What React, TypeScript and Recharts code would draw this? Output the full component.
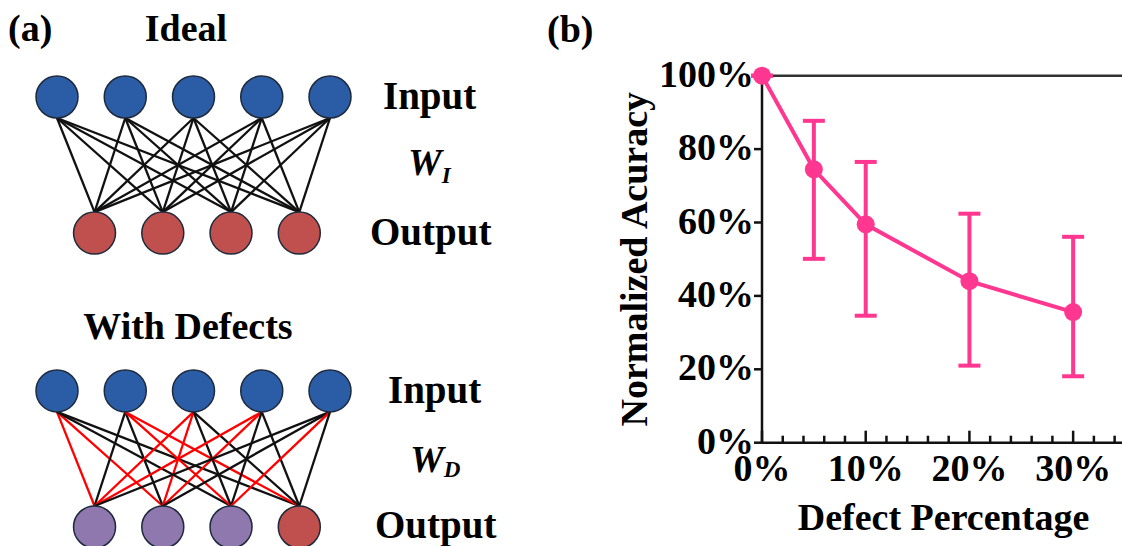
import React from 'react';
import {
  ScatterChart,
  Scatter,
  LineChart,
  Line,
  ErrorBar,
  XAxis,
  YAxis,
  ReferenceLine,
  Label,
} from 'recharts';

// ---- panel (a): network layout (node index units) ----
const inputPos = [0, 1, 2, 3, 4];
const outputPos = [0.55, 1.55, 2.55, 3.55];
const idealRows = { input: 0, output: 1 };
const defectRows = { input: 2.16, output: 3.16 };
const defectOutputs = [true, true, true, false];
// [input, output] weights that are defective in W_D
const defectEdges = [
  [0, 0], [0, 1], [1, 2], [1, 3], [2, 0], [2, 1], [3, 0], [3, 1], [4, 2],
];

// ---- panel (b): accuracy vs defect percentage ----
const defectPct = [0, 5, 10, 20, 30];
const accuracy = [100, 74.5, 59.5, 44.0, 35.6];
const accLow = [100, 50.1, 34.6, 21.0, 18.1];
const accHigh = [100, 87.7, 76.5, 62.4, 56.1];
const xTicks = [0, 2, 4, 6, 8, 10, 12, 14, 16, 18, 20, 22, 24, 26, 28, 30, 32, 34];
const yTicks = [0, 20, 40, 60, 80, 100];

const FONT = "'Liberation Serif', 'Times New Roman', Times, serif";
const PINK = '#ff3790';
const BLUE = '#2b5ca6';
const RED = '#c0504d';
const PURPLE = '#8f78ad';
const NODE_R = 21;

const NET_W = 520;
const NET_H = 546;
const NET_MARGIN = { top: 97, right: 190, bottom: 19, left: 57 };
const Y_SPAN = 3.16;
const pxPerRow = (NET_H - NET_MARGIN.top - NET_MARGIN.bottom) / Y_SPAN;
const rOff = NODE_R / pxPerRow;

const accData = defectPct.map((x, i) => ({
  x,
  acc: accuracy[i],
  err: [accuracy[i] - accLow[i], accHigh[i] - accuracy[i]],
}));

const blueNodes = [idealRows.input, defectRows.input].flatMap((y) =>
  inputPos.map((x) => ({ x, y }))
);
const redNodes = [
  ...outputPos.map((x) => ({ x, y: idealRows.output })),
  ...outputPos.filter((_, j) => !defectOutputs[j]).map((x) => ({ x, y: defectRows.output })),
];
const purpleNodes = outputPos
  .filter((_, j) => defectOutputs[j])
  .map((x) => ({ x, y: defectRows.output }));

const isDefect = (i: number, j: number) => defectEdges.some(([a, b]) => a === i && b === j);

const nodeShape = (fill: string) => (p: any) => (
  <circle cx={p.cx} cy={p.cy} r={NODE_R} fill={fill} stroke="#1e2a3c" strokeWidth={1.5} />
);

const XTick = (p: any) => {
  const v = p.payload.value;
  const major = v % 10 === 0;
  return (
    <g>
      <line x1={p.x} x2={p.x} y1={p.y} y2={p.y - (major ? 12 : 7)} stroke="#111" strokeWidth={2.5} />
      {major && (
        <text x={p.x} y={p.y + 38} textAnchor="middle" fontFamily={FONT} fontWeight="bold" fontSize={38} fill="#000">
          {v}%
        </text>
      )}
    </g>
  );
};

const YTick = (p: any) => (
  <text x={p.x} y={p.y + 11} textAnchor="end" fontFamily={FONT} fontWeight="bold" fontSize={38} fill="#000">
    {p.payload.value}%
  </text>
);

const YTitle = (p: any) => {
  const { x, y, height } = p.viewBox;
  const cx = x + 107;
  const cy = y + height / 2;
  return (
    <text x={cx} y={cy} transform={`rotate(-90 ${cx} ${cy})`} textAnchor="middle" fontFamily={FONT} fontWeight="bold" fontSize={38} fill="#000">
      Normalized Acuracy
    </text>
  );
};

const XTitle = (p: any) => {
  const { x, y, width } = p.viewBox;
  return (
    <text x={x + width / 2} y={y + 87} textAnchor="middle" fontFamily={FONT} fontWeight="bold" fontSize={38} fill="#000">
      Defect Percentage
    </text>
  );
};

const App = () => {
  const edges: React.ReactNode[] = [];
  [idealRows, defectRows].forEach((rows, n) => {
    inputPos.forEach((xi, i) => {
      outputPos.forEach((xo, j) => {
        const red = n === 1 && isDefect(i, j);
        edges.push(
          <ReferenceLine
            key={`e${n}-${i}-${j}`}
            segment={[
              { x: xi, y: rows.input + rOff },
              { x: xo, y: rows.output - rOff },
            ]}
            stroke={red ? '#ff0000' : '#111'}
            strokeWidth={2.3}
            ifOverflow="visible"
          />
        );
      });
    });
  });

  return (
    <div style={{ position: 'absolute', left: 0, top: 0, width: 1122, height: 546, overflow: 'hidden', background: '#fff' }}>
      <div style={{ position: 'absolute', left: 0, top: 0 }}>
        <ScatterChart width={NET_W} height={NET_H} margin={NET_MARGIN}>
          <XAxis type="number" dataKey="x" domain={[0, 4]} hide />
          <YAxis type="number" dataKey="y" domain={[0, Y_SPAN]} reversed hide />
          {edges}
          <Scatter data={blueNodes} shape={nodeShape(BLUE)} isAnimationActive={false} />
          <Scatter data={redNodes} shape={nodeShape(RED)} isAnimationActive={false} />
          <Scatter data={purpleNodes} shape={nodeShape(PURPLE)} isAnimationActive={false} />
        </ScatterChart>
      </div>

      <div style={{ position: 'absolute', left: 540, top: 0 }}>
        <LineChart width={585} height={546} data={accData} margin={{ top: 75.7, right: 0, bottom: 43.3, left: 0 }}>
          <XAxis
            type="number"
            dataKey="x"
            domain={[0, 35]}
            ticks={xTicks}
            interval={0}
            tick={<XTick />}
            tickLine={false}
            tickSize={0}
            tickMargin={0}
            height={60}
            axisLine={{ stroke: '#111', strokeWidth: 2.5 }}
          >
            <Label content={<XTitle />} />
          </XAxis>
          <YAxis
            type="number"
            domain={[0, 100]}
            ticks={yTicks}
            interval={0}
            width={222}
            tick={<YTick />}
            tickSize={8}
            tickMargin={0}
            tickLine={{ stroke: '#111', strokeWidth: 2.5 }}
            axisLine={{ stroke: '#111', strokeWidth: 2.5 }}
          >
            <Label content={<YTitle />} />
          </YAxis>
          <ReferenceLine y={100} stroke="#333" strokeWidth={2.5} />
          <Line
            type="linear"
            dataKey="acc"
            stroke={PINK}
            strokeWidth={4}
            dot={{ r: 9, fill: PINK, stroke: PINK, strokeWidth: 0 }}
            activeDot={false}
            isAnimationActive={false}
          >
            <ErrorBar dataKey="err" direction="y" width={11} stroke={PINK} strokeWidth={4} />
          </Line>
        </LineChart>
      </div>

      <svg width={1122} height={546} style={{ position: 'absolute', left: 0, top: 0, pointerEvents: 'none' }}>
        <g fontFamily={FONT} fontWeight="bold" fontSize={38} fill="#000">
          <text x={8} y={41}>(a)</text>
          <text x={186} y={41} textAnchor="middle">Ideal</text>
          <text x={383} y={109} fontSize={39}>Input</text>
          <text x={408} y={175} fontStyle="italic">
            W<tspan fontSize={23} dy={8}>I</tspan>
          </text>
          <text x={370} y={245} fontSize={39}>Output</text>
          <text x={188} y={339} textAnchor="middle">With Defects</text>
          <text x={388} y={403} fontSize={39}>Input</text>
          <text x={410} y={472} fontStyle="italic">
            W<tspan fontSize={23} dy={5}>D</tspan>
          </text>
          <text x={375} y={538} fontSize={39}>Output</text>
          <text x={547} y={42}>(b)</text>
        </g>
      </svg>
    </div>
  );
};

export default App;
